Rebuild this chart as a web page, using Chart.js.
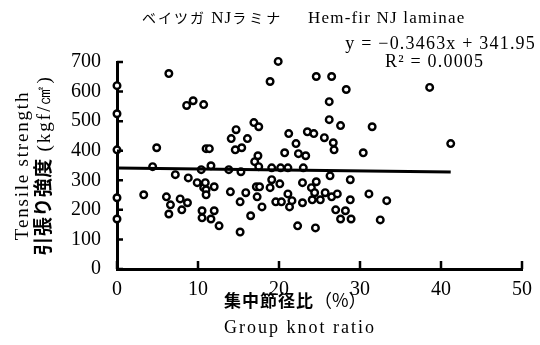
<!DOCTYPE html>
<html>
<head>
<meta charset="utf-8">
<script src="https://cdn.jsdelivr.net/npm/chart.js@4.4.1/dist/chart.umd.min.js"></script>
<style>
  html, body { margin: 0; padding: 0; background: #fff; }
  #wrap { width: 540px; height: 345px; position: relative; }
</style>
</head>
<body>
<div id="wrap"><canvas id="chart"></canvas></div>
<script>
// group knot ratio (%) and tensile strength (kgf/cm2) of each lamina
const knotRatio = [
  0, 0, 0, 0, 0,
  3.3, 4.4, 4.9, 6.1, 6.4, 6.4, 6.6, 7.2, 7.8, 8.0, 8.6, 8.7, 8.8, 9.4, 9.9,
  10.4, 10.5, 10.5, 10.7, 10.7, 10.9, 11.0, 11.0, 11.0, 11.4, 11.6, 11.6, 12.0, 12.0, 12.6,
  13.8, 14.0, 14.1, 14.6, 14.7, 15.2, 15.2, 15.3, 15.4, 15.9, 16.1, 16.5, 16.9, 17.0,
  17.2, 17.3, 17.4, 17.5, 17.5, 17.6, 17.9, 18.9, 18.9, 19.1, 19.1, 19.6, 19.9,
  20.1, 20.2, 20.3, 20.7, 21.1, 21.1, 21.2, 21.3, 21.6, 22.1, 22.3, 22.4, 22.9, 22.9,
  23.0, 23.3, 23.5, 24.0, 24.1, 24.3, 24.4, 24.5, 24.6, 24.6, 25.1, 25.6, 25.7,
  26.2, 26.2, 26.3, 26.5, 26.5, 26.7, 26.8, 27.0, 27.2, 27.6, 27.6, 28.2, 28.3,
  28.8, 28.8, 28.9, 30.4, 31.1, 31.5, 32.5, 33.3, 38.6, 41.2
];
const tensileStrength = [
  620, 525, 403, 241, 169,
  251, 346, 410, 244, 661, 186, 217, 319, 237, 200, 553, 224, 308, 569, 292,
  336, 197, 173, 556, 275, 292, 407, 268, 251, 407, 349, 169, 278, 197, 146,
  336, 261, 441, 403, 471, 227, 125, 329, 410, 258, 441, 180, 495, 363,
  278, 244, 383, 481, 346, 278, 210, 634, 275, 342, 302, 227, 702,
  288, 342, 227, 393, 342, 254, 458, 210, 231, 424, 146, 390, 292, 224,
  342, 383, 464, 275, 234, 458, 258, 139, 651, 295, 234, 444, 258,
  566, 505, 315, 651, 244, 427, 403, 200, 254, 485, 169, 197, 607,
  302, 234, 169, 393, 254, 481, 166, 231, 614, 424
];

// regression y = slope * x + intercept
const slope = -0.3463;
const intercept = 341.95;
const rSquared = '0.0005';

const xTicks = [0, 10, 20, 30, 40, 50];
const yTicks = [0, 100, 200, 300, 400, 500, 600, 700];

const points = knotRatio.map((x, i) => ({ x: x, y: tensileStrength[i] }));
const xMin = Math.min(...knotRatio);
const xMax = Math.max(...knotRatio);
const fitLine = [
  { x: xMin, y: slope * xMin + intercept },
  { x: xMax, y: slope * xMax + intercept }
];

const SERIF = '"Liberation Serif", "DejaVu Serif", serif';
const GOTHIC = '"Noto Sans CJK JP", sans-serif';

// draws consecutive pieces of text: [text, font, letterSpacing]
function drawRuns(ctx, runs, x, y, align) {
  let total = 0;
  runs.forEach(r => {
    ctx.font = r[1];
    ctx.letterSpacing = (r[2] || 0) + 'px';
    total += ctx.measureText(r[0]).width;
  });
  let cx = align === 'center' ? x - total / 2 : (align === 'right' ? x - total : x);
  ctx.textAlign = 'left';
  runs.forEach(r => {
    ctx.font = r[1];
    ctx.letterSpacing = (r[2] || 0) + 'px';
    ctx.fillText(r[0], cx, y);
    cx += ctx.measureText(r[0]).width;
  });
  ctx.letterSpacing = '0px';
}

const annotations = {
  id: 'annotations',
  afterDraw(chart) {
    const ctx = chart.ctx;
    const area = chart.chartArea;
    const xs = chart.scales.x, ys = chart.scales.y;
    ctx.save();
    ctx.fillStyle = '#000';
    ctx.strokeStyle = '#000';

    // inward tick marks
    ctx.lineWidth = 2.5;
    ctx.beginPath();
    yTicks.forEach(v => {
      const py = ys.getPixelForValue(v);
      ctx.moveTo(area.left, py);
      ctx.lineTo(area.left + 6, py);
    });
    xTicks.forEach(v => {
      const px = xs.getPixelForValue(v);
      ctx.moveTo(px, area.bottom);
      ctx.lineTo(px, area.bottom - 8);
    });
    ctx.stroke();

    ctx.textBaseline = 'alphabetic';

    // title
    drawRuns(ctx, [
      ['ベイツガ', '14px ' + GOTHIC, 2],
      [' NJ', '17px ' + SERIF, 1],
      ['ラミナ', '14px ' + GOTHIC, 3]
    ], 142, 23, 'left');
    drawRuns(ctx, [['Hem-fir NJ laminae', '17px ' + SERIF, 1.2]], 308, 23, 'left');

    // regression equation
    drawRuns(ctx, [['y = \u2212' + Math.abs(slope) + 'x + ' + intercept, '18px ' + SERIF, 1.2]], 536, 49, 'right');
    drawRuns(ctx, [['R\u00b2 = ' + rSquared, '18px ' + SERIF, 1.2]], 385, 67, 'left');

    // x axis titles
    drawRuns(ctx, [
      ['集中節径比', 'bold 17px ' + GOTHIC, 1],
      ['（%）', '18px ' + GOTHIC, 0]
    ], 224, 307, 'left');
    drawRuns(ctx, [['Group knot ratio', '18px ' + SERIF, 2]], 224, 333, 'left');

    // y axis titles, rotated
    const mid = (area.top + area.bottom) / 2;
    ctx.save();
    ctx.translate(28, mid);
    ctx.rotate(-Math.PI / 2);
    drawRuns(ctx, [['Tensile strength', '19px ' + SERIF, 1.8]], 0, 0, 'center');
    ctx.restore();

    ctx.save();
    ctx.translate(50, mid);
    ctx.rotate(-Math.PI / 2);
    drawRuns(ctx, [
      ['引張り強度', 'bold 19px ' + GOTHIC, 0.5],
      [' (kgf/㎠)', '19px ' + SERIF, 2]
    ], 0, 0, 'center');
    ctx.restore();

    ctx.restore();
  }
};

new Chart(document.getElementById('chart'), {
  type: 'scatter',
  data: {
    datasets: [{
      type: 'line',
      data: fitLine,
      borderColor: '#000',
      borderWidth: 3,
      pointRadius: 0,
      fill: false,
      clip: false
    }, {
      data: points,
      pointRadius: 3.3,
      pointBorderWidth: 2.4,
      pointBackgroundColor: '#fff',
      pointBorderColor: '#000',
      clip: false
    }]
  },
  options: {
    responsive: true,
    maintainAspectRatio: false,
    animation: false,
    devicePixelRatio: 1,
    layout: { padding: { top: 62, right: 18, left: 0, bottom: 0 } },
    plugins: {
      legend: { display: false },
      tooltip: { enabled: false }
    },
    scales: {
      x: {
        type: 'linear',
        min: 0,
        max: 50,
        afterBuildTicks: s => { s.ticks = xTicks.map(v => ({ value: v })); },
        afterFit: s => { s.height = 76; },
        grid: { display: false },
        border: { display: true, color: '#000', width: 3 },
        ticks: { color: '#000', padding: 1, font: { family: SERIF, size: 20 } }
      },
      y: {
        type: 'linear',
        min: 0,
        max: 700,
        afterBuildTicks: s => { s.ticks = yTicks.map(v => ({ value: v })); },
        afterFit: s => { s.width = 117; },
        grid: { display: false },
        border: { display: true, color: '#000', width: 3 },
        ticks: { color: '#000', padding: 8, font: { family: SERIF, size: 20 } }
      }
    }
  },
  plugins: [annotations]
});
</script>
</body>
</html>
